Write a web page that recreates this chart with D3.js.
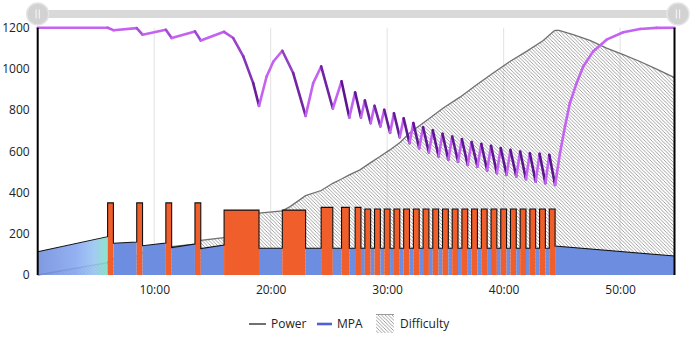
<!DOCTYPE html>
<html lang="en">
<head>
    <meta charset="UTF-8">
    <title>Workout - Power, MPA and Difficulty</title>
    <script src="https://cdnjs.cloudflare.com/ajax/libs/d3/7.8.5/d3.min.js"></script>
    <style>
        body { margin: 0; background: #fff; font-family: "Open Sans", sans-serif; }
        .axis text { font-size: 12px; fill: #222; }
        .legend text { font-size: 12px; fill: #222; }
    </style>
</head>
<body>
<div id="chart"></div>

<script>
    // Workout intervals: duration (s), power at start and end of each interval (W)
    const durations = [360,
        30, 120, 30, 120, 30, 120, 30, 120,
        180, 120, 120, 80, 60, 45, 40, 30, 30, 20,
        30, 20, 30, 20, 30, 20, 30, 20, 30, 20, 30, 20, 30, 20, 30, 20, 30, 20, 30, 20,
        30, 20, 30, 20, 30, 20, 30, 20, 30, 20, 30, 20, 30, 20, 30, 20, 30, 20, 30,
        615];
    const powerStart = [113,
        350, 154, 350, 142, 350, 133, 350, 128,
        315, 130, 315, 130, 328, 130, 328, 130, 328, 130,
        320, 130, 320, 130, 320, 130, 320, 130, 320, 130, 320, 130, 320, 130, 320, 130, 320, 130, 320, 130,
        320, 130, 320, 130, 320, 130, 320, 130, 320, 130, 320, 130, 320, 130, 320, 130, 320, 130, 320,
        141];
    const powerEnd = [186,
        350, 160, 350, 155, 350, 150, 350, 145,
        315, 130, 315, 130, 328, 130, 328, 130, 328, 130,
        320, 130, 320, 130, 320, 130, 320, 130, 320, 130, 320, 130, 320, 130, 320, 130, 320, 130, 320, 130,
        320, 130, 320, 130, 320, 130, 320, 130, 320, 130, 320, 130, 320, 130, 320, 130, 320, 130, 320,
        92];

    // MPA (W) read at given times (s)
    const mpaTime = [0, 360, 390, 510, 540, 660, 690, 810, 840, 960, 1007, 1059, 1110, 1140, 1179, 1214, 1260,
        1316, 1380, 1419, 1460, 1520, 1565, 1605, 1635, 1665,
        1685, 1715, 1735, 1765, 1785, 1815, 1835, 1865, 1885, 1915, 1935, 1965, 1985, 2015, 2035, 2065,
        2085, 2115, 2135, 2165, 2185, 2215, 2235, 2265, 2285, 2315, 2335, 2365, 2385, 2415, 2435, 2465,
        2485, 2515, 2535, 2565, 2585, 2615, 2635, 2665,
        2690, 2716, 2741, 2776, 2810, 2861, 2930, 3016, 3102, 3188, 3280];
    const mpaValue = [1200, 1200, 1188, 1198, 1166, 1190, 1150, 1182, 1138, 1180, 1150, 1061, 931, 821, 963, 1036, 1088,
        980, 772, 931, 1012, 808, 940, 764, 886, 764,
        847, 737, 821, 721, 802, 690, 785, 668, 760, 640, 737, 615, 717, 595, 702, 575,
        685, 559, 672, 551, 659, 534, 645, 526, 636, 507, 627, 494, 616, 486, 607, 478,
        599, 465, 591, 453, 588, 445, 583, 437,
        591, 721, 834, 931, 1012, 1085, 1142, 1178, 1194, 1199, 1200];

    // Difficulty read at given times (s)
    const diffTime = [0, 360, 390, 510, 540, 660, 690, 810, 840, 960, 1140, 1260, 1300, 1380, 1460, 1520, 1565, 1605,
        1660, 1711, 1763, 1814, 1866, 1917, 2003, 2089, 2175, 2261, 2346, 2432, 2518, 2604, 2656, 2665, 2685,
        2758, 2844, 2930, 3016, 3102, 3188, 3280];
    const diffValue = [0, 60, 80, 92, 110, 122, 138, 150, 168, 181, 300, 311, 332, 385, 410, 445, 466, 486,
        510, 543, 575, 607, 643, 690, 750, 810, 863, 923, 980, 1036, 1085, 1138, 1182, 1187, 1187,
        1166, 1138, 1101, 1069, 1036, 999, 958];

    const xTicks = [600, 1200, 1800, 2400, 3000];
    const yTicks = [0, 200, 400, 600, 800, 1000, 1200];

    const width = 690, height = 339;
    const svg = d3.select("#chart").append("svg")
        .attr("width", width).attr("height", height);

    const x = d3.scaleLinear().domain([0, 3280]).range([37.7, 674.5]);
    const y = d3.scaleLinear().domain([0, 1200]).range([275, 27.7]);

    const defs = svg.append("defs");

    // diagonal hatching for difficulty
    const hatch = defs.append("pattern")
        .attr("id", "hatch")
        .attr("patternUnits", "userSpaceOnUse")
        .attr("width", 3.5).attr("height", 3.5);
    hatch.append("path")
        .attr("d", "M-1,-1L4.5,4.5M-1,2.5L1,4.5M2.5,-1L4.5,1")
        .attr("stroke", "#8a8a8a")
        .attr("stroke-width", 0.8);

    // warm-up gradient (blue -> turquoise)
    const warm = defs.append("linearGradient")
        .attr("id", "warmup")
        .attr("x1", "0%").attr("x2", "100%").attr("y1", "0%").attr("y2", "0%");
    warm.append("stop").attr("offset", "0%").attr("stop-color", "#6e8cdc");
    warm.append("stop").attr("offset", "55%").attr("stop-color", "#84a6f0");
    warm.append("stop").attr("offset", "80%").attr("stop-color", "#97c2f2");
    warm.append("stop").attr("offset", "100%").attr("stop-color", "#7fe0c6");

    // build intervals with cumulative start times
    let t = 0;
    const intervals = durations.map((d, i) => {
        const iv = { t0: t, t1: t + d, p0: powerStart[i], p1: powerEnd[i], i: i };
        t += d;
        return iv;
    });

    // vertical gridlines
    svg.append("g")
        .selectAll("line")
        .data(xTicks)
        .enter().append("line")
        .attr("x1", d => x(d)).attr("x2", d => x(d))
        .attr("y1", y(1200)).attr("y2", y(0))
        .attr("stroke", "#e2e2e2")
        .attr("stroke-width", 1);

    // difficulty area
    const diffData = diffTime.map((d, i) => ({ t: d, v: diffValue[i] }));
    svg.append("path")
        .datum(diffData)
        .attr("fill", "url(#hatch)")
        .attr("d", d3.area().x(d => x(d.t)).y0(y(0)).y1(d => y(d.v)));
    svg.append("path")
        .datum(diffData)
        .attr("fill", "none")
        .attr("stroke", "#707070")
        .attr("stroke-width", 1.3)
        .attr("d", d3.line().x(d => x(d.t)).y(d => y(d.v)));

    // power blocks
    svg.append("g")
        .selectAll("path")
        .data(intervals)
        .enter().append("path")
        .attr("d", d => `M${x(d.t0)},${y(0)}L${x(d.t0)},${y(d.p0)}L${x(d.t1)},${y(d.p1)}L${x(d.t1)},${y(0)}Z`)
        .attr("fill", d => d.i === 0 ? "url(#warmup)" : (d.p0 > 250 ? "#ef5e2b" : "#6d8ee0"))
        .attr("fill-opacity", d => d.i === 0 ? 0.88 : 1);

    // power outline
    const powerPts = [];
    intervals.forEach(d => {
        powerPts.push([d.t0, d.p0]);
        powerPts.push([d.t1, d.p1]);
    });
    svg.append("path")
        .datum(powerPts)
        .attr("fill", "none")
        .attr("stroke", "#111")
        .attr("stroke-width", 1.1)
        .attr("d", d3.line().x(d => x(d[0])).y(d => y(d[1])));

    // MPA line, colored by slope
    const mpaColor = d3.interpolateRgb("#c462f2", "#5a1590");
    const mpaSegs = d3.pairs(mpaTime.map((d, i) => ({ t: d, v: mpaValue[i] })));
    svg.append("g")
        .selectAll("line")
        .data(mpaSegs)
        .enter().append("line")
        .attr("x1", d => x(d[0].t)).attr("y1", d => y(d[0].v))
        .attr("x2", d => x(d[1].t)).attr("y2", d => y(d[1].v))
        .attr("stroke", d => {
            const slope = (d[1].v - d[0].v) / (d[1].t - d[0].t);
            return slope >= 0 ? "#c462f2" : mpaColor(Math.min(1, -slope / 4.2));
        })
        .attr("stroke-width", 2.6)
        .attr("stroke-linecap", "round");

    // axes frame lines
    svg.append("line")
        .attr("x1", x(0)).attr("x2", x(0))
        .attr("y1", y(1200)).attr("y2", y(0))
        .attr("stroke", "#000").attr("stroke-width", 2);
    svg.append("line")
        .attr("x1", x(3280)).attr("x2", x(3280))
        .attr("y1", y(1200)).attr("y2", y(0))
        .attr("stroke", "#000").attr("stroke-width", 2);

    // y axis labels
    svg.append("g")
        .attr("class", "axis")
        .attr("transform", `translate(${x(0)},0)`)
        .call(d3.axisLeft(y).tickValues(yTicks).tickSize(0).tickPadding(8).tickFormat(d3.format("d")))
        .call(g => g.select(".domain").remove())
        .selectAll("text").style("font-family", "Open Sans");

    // x axis labels
    svg.append("g")
        .attr("class", "axis")
        .attr("transform", `translate(0,${y(0) + 6})`)
        .call(d3.axisBottom(x).tickValues(xTicks).tickSize(0).tickPadding(4)
            .tickFormat(d => `${Math.floor(d / 60)}:00`))
        .call(g => g.select(".domain").remove())
        .selectAll("text").style("font-family", "Open Sans");

    // range slider at the top
    const slider = svg.append("g");
    slider.append("rect")
        .attr("x", x(0)).attr("y", 10)
        .attr("width", 678 - x(0)).attr("height", 8)
        .attr("fill", "#d9d9d9");
    [x(0), 678].forEach(cx => {
        slider.append("circle")
            .attr("cx", cx).attr("cy", 14).attr("r", 11)
            .attr("fill", "#d2d2d2")
            .attr("stroke", "#e4e4e4").attr("stroke-width", 1.5);
        [-1.6, 1.6].forEach(dx => {
            slider.append("line")
                .attr("x1", cx + dx).attr("x2", cx + dx)
                .attr("y1", 9.5).attr("y2", 18.5)
                .attr("stroke", "#f4f4f4").attr("stroke-width", 1.1);
        });
    });

    // legend
    const legend = svg.append("g").attr("class", "legend");
    legend.append("line")
        .attr("x1", 249).attr("x2", 266).attr("y1", 324).attr("y2", 324)
        .attr("stroke", "#111").attr("stroke-width", 1.2);
    legend.append("text").attr("x", 271).attr("y", 328).text("Power");
    legend.append("line")
        .attr("x1", 317).attr("x2", 332).attr("y1", 324).attr("y2", 324)
        .attr("stroke", "#4f5fd8").attr("stroke-width", 2.6);
    legend.append("text").attr("x", 337).attr("y", 328).text("MPA");
    legend.append("rect")
        .attr("x", 376).attr("y", 314).attr("width", 18).attr("height", 19)
        .attr("fill", "url(#hatch)");
    legend.append("line")
        .attr("x1", 376).attr("x2", 394).attr("y1", 314.5).attr("y2", 314.5)
        .attr("stroke", "#999").attr("stroke-width", 1);
    legend.append("text").attr("x", 400).attr("y", 328).text("Difficulty");
</script>
</body>
</html>
